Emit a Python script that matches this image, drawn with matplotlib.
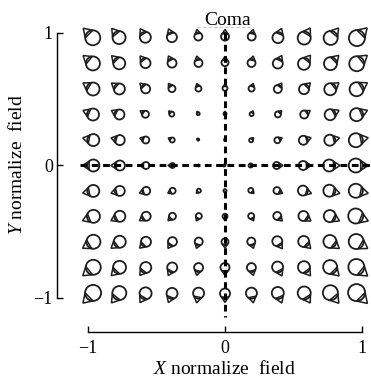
import numpy as np
import matplotlib.pyplot as plt
from matplotlib.patches import Ellipse, Polygon
from matplotlib.lines import Line2D

plt.rcParams["font.family"] = ["Liberation Serif", "DejaVu Serif"]
plt.rcParams["mathtext.fontset"] = "custom"
plt.rcParams["mathtext.rm"] = "Liberation Serif"
plt.rcParams["mathtext.it"] = "Liberation Serif:italic"

# field sample points
x_field = [-1.0, -0.8, -0.6, -0.4, -0.2, 0.0, 0.2, 0.4, 0.6, 0.8, 1.0]
y_field = [1.0, 0.8, 0.6, 0.4, 0.2, 0.0, -0.2, -0.4, -0.6, -0.8, -1.0]

# coma blur circle diameter (px), rows top -> bottom
spot_diam = [
    [15, 13, 11, 10, 8, 8, 8, 11, 13, 14, 16],
    [14, 12, 10, 9, 8, 7, 8, 10, 12, 13, 15],
    [13, 11, 9, 7, 6, 5, 6, 8, 10, 12, 14],
    [12, 10, 7, 5, 3, 3, 4, 6, 8, 11, 13],
    [12, 10, 7, 5, 2, 2, 4, 6, 9, 11, 14],
    [12, 10, 7, 5, 2, 2, 4, 7, 9, 12, 14],
    [12, 10, 8, 6, 4, 3, 5, 7, 10, 12, 14],
    [13, 11, 9, 7, 6, 5, 6, 8, 10, 12, 15],
    [14, 12, 10, 9, 8, 7, 8, 10, 11, 13, 15],
    [15, 13, 11, 10, 9, 9, 9, 11, 12, 14, 16],
    [16, 14, 12, 11, 11, 10, 11, 12, 13, 15, 17],
]
ticks = [-1, 0, 1]
tick_labels = ["\u22121", "0", "1"]

W, H = 371, 378
fig = plt.figure(figsize=(W / 100, H / 100), dpi=100)
ax = fig.add_axes([0, 0, 1, 1])

# pixel scale of the data axes
sx, sy = 137.0, 132.5
x0_px, y1_px = 88, 33
ax.set_xlim(-1 - x0_px / sx, -1 + (W - x0_px) / sx)
ax.set_ylim(1 - (H - y1_px) / sy, 1 + y1_px / sy)

ink = "#1e1e1e"
lw = 1.3
k_apex = 1.8                       # apex distance in circle radii
half = np.deg2rad(45)              # where the tail meets the circle

for j, yv in enumerate(y_field):
    for i, xv in enumerate(x_field):
        r = spot_diam[j][i] / 2
        th = np.arctan2(yv, xv)
        ux, uy = np.cos(th), np.sin(th)
        cx = xv - 0.9 * r * ux / sx
        cy = yv - 0.9 * r * uy / sy
        ax.add_patch(Ellipse((cx, cy), 2 * r / sx, 2 * r / sy, fill=False,
                             lw=lw, ec=ink))
        apex = (cx + k_apex * r * ux / sx, cy + k_apex * r * uy / sy)
        t1 = (cx + r * np.cos(th + half) / sx, cy + r * np.sin(th + half) / sy)
        t2 = (cx + r * np.cos(th - half) / sx, cy + r * np.sin(th - half) / sy)
        ax.add_patch(Polygon([apex, t1, t2], closed=True, fill=False,
                             lw=lw * 0.85, ec=ink))

# dashed axes through the field centre
dash = (0, (2.2, 1.5))
ax.plot([-1.06, 1.3], [0, 0], color="k", lw=2.2, ls=dash)
ax.plot([0, 0], [1.0, -1.14], color="k", lw=2.2, ls=dash)

for s in ["top", "right"]:
    ax.spines[s].set_visible(False)
ax.spines["left"].set_position(("data", -1 - 31 / sx))
ax.spines["bottom"].set_position(("data", -1 - 34 / sy))
ax.spines["left"].set_bounds(-1, 1)
ax.spines["bottom"].set_bounds(-1, 1)
for s in ["left", "bottom"]:
    ax.spines[s].set_linewidth(1.0)

ax.set_xticks(ticks)
ax.set_xticklabels(tick_labels)
ax.set_yticks(ticks)
ax.set_yticklabels(tick_labels)
ax.tick_params(direction="in", length=4, width=1.0, labelsize=13)
ax.tick_params(axis="y", pad=3)
ax.tick_params(axis="x", pad=6)

fig.text(228 / W, 1 - 25 / H, "Coma", ha="center", va="baseline", fontsize=14)
fig.add_artist(Line2D([197 / W, 250 / W], [1 - 27 / H] * 2, color="0.78",
                      lw=0.8, ls=(0, (3, 2))))
fig.text(224 / W, 1 - 369 / H, "$X$ normalize  field", ha="center",
         va="center", fontsize=14)
fig.text(17 / W, 1 - 164 / H, "$Y$ normalize  field", ha="center",
         va="center", rotation=90, fontsize=14)

fig.savefig("out.png", dpi=100)
